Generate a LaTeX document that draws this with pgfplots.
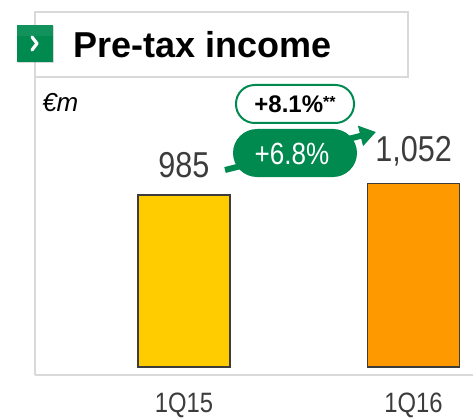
\documentclass[border=0pt]{standalone}
\usepackage{pgfplots}
\pgfplotsset{compat=1.18}
\usetikzlibrary{arrows.meta,shadows}
\usepackage{fontspec}
\setmainfont{Liberation Sans}
\newfontfamily\cond{Liberation Sans}[FakeStretch=0.85]
\definecolor{bnpgreen}{RGB}{0,138,80}
\definecolor{txtgray}{RGB}{60,60,60}
\definecolor{framegray}{RGB}{217,217,217}
\definecolor{baryellow}{RGB}{255,204,0}
\definecolor{barorange}{RGB}{255,153,0}
\begin{document}
\begin{tikzpicture}
\useasboundingbox (0,0) rectangle (354.75pt,313.5pt);
\begin{axis}[
  at={(26.25pt,32.25pt)}, anchor=south west,
  scale only axis, width=328.5pt, height=272.25pt,
  xmin=-0.649, xmax=1.259, ymin=-45.8, ymax=2034,
  axis x line*=bottom, axis y line*=left,
  axis line style={-, draw=framegray, line width=1.5pt},
  ytick=\empty, xtick={0,1}, xticklabels={1Q15,1Q16},
  major tick length=0pt,
  xticklabel style={font=\cond\fontsize{21pt}{21pt}\selectfont, text=txtgray, inner sep=0pt, yshift=-13.5pt},
  ybar, bar shift=0pt, bar width=0.401,
  nodes near coords,
  every node near coord/.style={font=\cond\fontsize{27pt}{27pt}\selectfont, text=txtgray, anchor=south, inner sep=0pt, yshift=12pt},
  /pgf/number format/assume math mode=true,
  /pgf/number format/1000 sep={,},
  clip=false,
]
\addplot[fill=baryellow, draw=txtgray, line width=1.2pt] coordinates {(0,985)};
\addplot[fill=barorange, draw=txtgray, line width=1.2pt] coordinates {(1,1052)};
\end{axis}
\begin{scope}[x=0.75pt,y=-0.75pt,yshift=313.5pt]
  % title box
  \draw[framegray, line width=1.5pt, fill=white] (35,12) rectangle (408,77);
  \node[anchor=west, inner sep=0pt, font=\bfseries\fontsize{27pt}{27pt}\selectfont] at (73,45) {Pre-tax income};
  % icon
  \fill[bnpgreen, drop shadow={shadow xshift=1pt, shadow yshift=-1pt, opacity=0.3}] (17,25) rectangle (53,62);
  \fill[bnpgreen!80!white, opacity=0.35] (17,25) rectangle (53,36);
  \draw[white, line width=2.4pt, line cap=round, line join=round] (32,37) -- (37,43.5) -- (32,50);
  % unit
  \node[anchor=base west, inner sep=0pt, font=\itshape\fontsize{19.5pt}{19.5pt}\selectfont] at (42,112) {€m};
  % arrow
  \draw[bnpgreen, line width=4.5pt, -{Triangle[length=12pt,width=15pt]}] (225,170) -- (376,132);
  % green pill
  \fill[bnpgreen, rounded corners=18pt] (233,129) rectangle (357,177);
  \node[text=white, inner sep=0pt, font=\cond\fontsize{23pt}{23pt}\selectfont] at (292,154) {+6.8\%};
  % outline pill
  \draw[bnpgreen, line width=1.5pt, fill=white, rounded corners=14pt] (236,85) rectangle (354,123);
  \node[inner sep=0pt, font=\bfseries\fontsize{18pt}{18pt}\selectfont, anchor=base] at (295,113) {+8.1\%\raisebox{4pt}{\fontsize{12pt}{12pt}\selectfont**}};
\end{scope}
\end{tikzpicture}
\end{document}
